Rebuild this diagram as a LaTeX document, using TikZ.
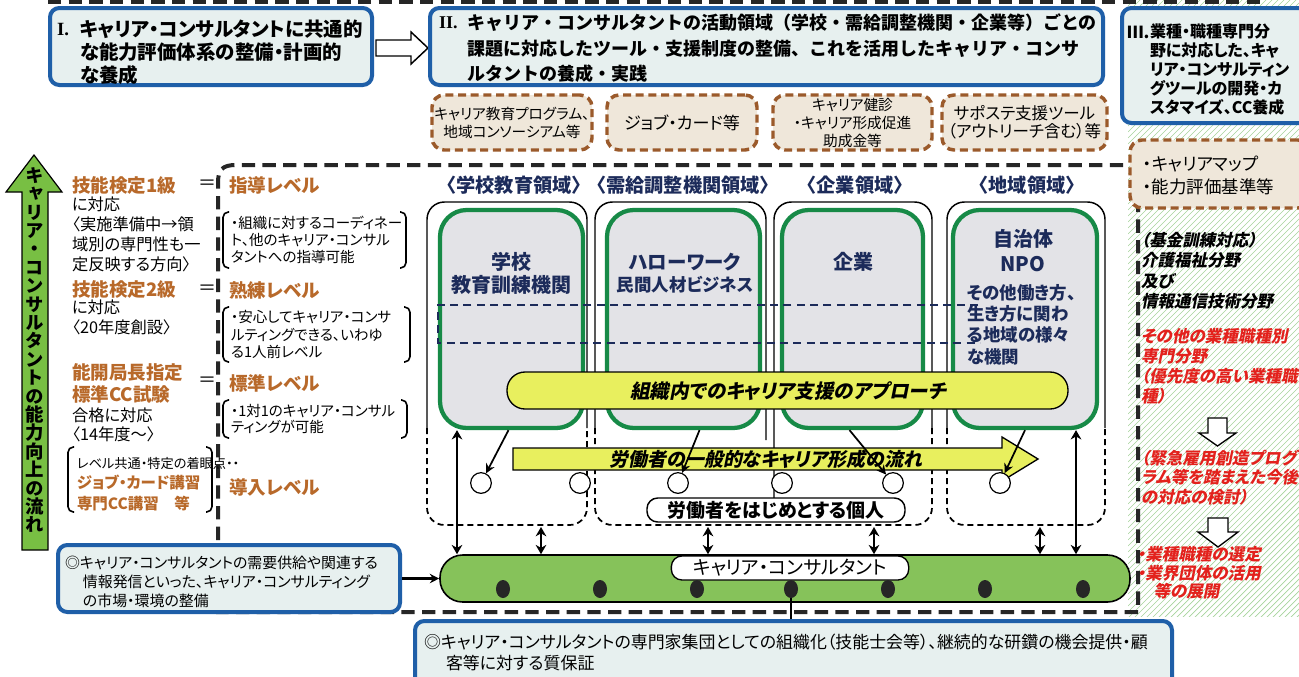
\documentclass[tikz,border=0pt]{standalone}
\usepackage{fontspec}
\setmainfont{Noto Sans CJK JP}[RawFeature=+palt]
\newfontfamily\jpmono{Noto Sans CJK JP}
\newfontfamily\jpsl{Noto Sans CJK JP}[RawFeature=+palt, FakeSlant=0.2]
\newfontfamily\jpvert{Noto Sans CJK JP}[RawFeature=+vert]
\newfontfamily\serifnum{Liberation Serif}
\usetikzlibrary{arrows.meta,fit,calc,shapes.geometric}
\newcommand{\fs}[2]{\fontsize{#1pt}{#2pt}\selectfont}
\definecolor{boxblue}{HTML}{1F5FA8}
\definecolor{boxfill}{HTML}{E7F0EF}
\definecolor{brownb}{HTML}{9B5A2B}
\definecolor{beige}{HTML}{EFE7DA}
\definecolor{browntxt}{HTML}{B8692A}
\definecolor{navy}{HTML}{1C2B5A}
\definecolor{grnline}{HTML}{178A47}
\definecolor{greyfill}{HTML}{E3E3E7}
\definecolor{yel}{HTML}{E8EF5E}
\definecolor{pillgreen}{HTML}{86C25A}
\definecolor{arrowgreen}{HTML}{78BF43}
\definecolor{hatchc}{HTML}{A6D49C}
\definecolor{redtxt}{HTML}{E3211C}
\tikzset{
 txt/.style={inner sep=0pt, outer sep=0pt},
 bluebox/.style={draw=boxblue, line width=3pt, fill=boxfill, rounded corners=7pt, inner sep=0pt},
 brownbox/.style={draw=brownb, line width=2.6pt, dash pattern=on 6pt off 3.5pt, fill=beige, rounded corners=9pt, inner sep=0pt},
 frameline/.style={line width=3pt, dash pattern=on 10pt off 5.5pt, draw=black!85},
 greenrect/.style={draw=grnline, line width=3.2pt, fill=greyfill, rounded corners=20pt, inner sep=0pt},
 colsolid/.style={line width=1.1pt, rounded corners=13pt},
 coldash/.style={line width=1.3pt, dash pattern=on 4.5pt off 3pt, rounded corners=13pt},
 navydash/.style={draw=navy, line width=1.8pt, dash pattern=on 6pt off 4pt},
 yellowshape/.style={fill=yel, draw=black, line width=1pt},
 pebble/.style={circle, draw=black, line width=0.9pt, fill=white, minimum size=15.5pt, inner sep=0pt},
 dot/.style={ellipse, fill=black!85, minimum width=10.5pt, minimum height=13.5pt, inner sep=0pt},
 arr/.style={-{Stealth[length=7pt,width=7pt]}, line width=1.3pt},
 dbl/.style={{Stealth[length=7pt,width=8pt]}-{Stealth[length=7pt,width=8pt]}, line width=1.8pt},
 hollow/.style={draw=black, line width=1pt, fill=white},
 bracket/.style={line width=1.2pt, rounded corners=4pt},
 brownhead/.style={txt, text=browntxt, font=\bfseries\fs{13.9}{16.5}},
 navyhead/.style={txt, text=navy, font=\jpmono\bfseries\fs{14.4}{14.4}},
 blackit/.style={txt, anchor=north west, align=left, font=\jpsl\bfseries\fs{12.4}{15.4}},
 redit/.style={txt, anchor=north west, align=left, text=redtxt, font=\jpsl\bfseries\fs{12.4}{15}},
}
\begin{document}
\begin{tikzpicture}[x=0.75pt,y=-0.75pt]
\useasboundingbox (0,0) rectangle (1299,676);
\clip (0,0) rectangle (1299,676);
\fill[white] (0,0) rectangle (1299,676);

% hatch region on the right
\begin{scope}
\clip (1128,0) rectangle (1299,616);
\foreach \i in {0,6,...,798} {\draw[hatchc, line width=0.5pt] (1128,\i) -- ++(180,-180);}
\end{scope}

% top dashed line and big frame
\draw[frameline] (48,2) -- (1263,2);
\draw[frameline] (1138,612) -- (218,612) -- (218,183) .. controls (218,170) and (222,165) .. (236,165) -- (1138,165) -- cycle;

% Box I
\node[bluebox, fit={(50,8) (372,85)}] (boxI) {};
\node[txt, anchor=west, font=\serifnum\bfseries\fs{14}{14}] (numI) at (57,30) {I.};
\node[txt, anchor=north west, align=left, font=\bfseries\fs{14.6}{17.25}] (txtI) at (80,20.25) {キャリア・コンサルタントに共通的\\な能力評価体系の整備・計画的\\な養成};

% hollow arrow I -> II
\draw[hollow, line width=1.1pt] (376,40) -- (411,40) -- (411,32) -- (428,48) -- (411,64) -- (411,56) -- (376,56) -- cycle;

% Box II
\node[bluebox, fit={(430,8) (1103,85)}] (boxII) {};
\node[txt, anchor=west, font=\serifnum\bfseries\fs{13.5}{13.5}] (numII) at (439,23) {II.};
\node[txt, anchor=north west, align=left, font=\jpmono\bfseries\fs{13.5}{19.1}] (txtII) at (467,14) {キャリア・コンサルタントの活動領域（学校・需給調整機関・企業等）ごとの\\課題に対応したツール・支援制度の整備、これを活用したキャリア・コンサ\\ルタントの養成・実践};

% Box III
\node[bluebox, fit={(1122,8) (1310,123)}] (boxIII) {};
\node[txt, anchor=west, font=\bfseries\fs{12.4}{12.4}] (numIII) at (1127,32) {Ⅲ.};
\node[txt, anchor=north west, align=left, font=\bfseries\fs{12}{14.25}] (txtIII) at (1150,24) {業種・職種専門分\\野に対応した、キャ\\リア・コンサルティン\\グツールの開発・カ\\スタマイズ、CC養成};

% brown dashed tool boxes
\node[brownbox, fit={(432,95) (592,150)}] (t1) {};
\node[txt, align=center, font=\fs{11}{13.5}] (t1t) at (t1.center) {キャリア教育プログラム、\\地域コンソーシアム等};
\node[brownbox, fit={(607,95) (757,150)}] (t2) {};
\node[txt, font=\fs{12.8}{12.8}] (t2t) at (t2.center) {ジョブ・カード等};
\node[brownbox, fit={(773,95) (932,150)}] (t3) {};
\node[txt, align=center, font=\fs{11}{13.5}] (t3t) at (t3.center) {キャリア健診\\・キャリア形成促進\\助成金等};
\node[brownbox, fit={(942,95) (1107,150)}] (t4) {};
\node[txt, align=center, font=\fs{12.4}{13.5}] (t4t) at (t4.center) {サポステ支援ツール\\（アウトリーチ含む）等};

% beige box right
\node[brownbox, fit={(1130,140) (1310,208)}] (mapbox) {};
\node[txt, anchor=north west, align=left, font=\fs{13.1}{16.9}] (mapt) at (1143,156.25) {・キャリアマップ\\・能力評価基準等};

% left green arrow
\draw[fill=arrowgreen, draw=black, line width=0.9pt] (22,550) -- (22,192) -- (6,192) -- (34,155) -- (62,192) -- (48,192) -- (48,550) -- cycle;
\node[txt, align=center, font=\jpvert\bfseries\fs{13.8}{13.8}] (vt) at (35,350) {キ\\ャ\\リ\\ア\\・\\コ\\ン\\サ\\ル\\タ\\ン\\ト\\の\\能\\力\\向\\上\\の\\流\\れ};

% left column
\node[brownhead, anchor=west] (k1) at (72,185) {技能検定1級};
\node[txt, anchor=north west, align=left, font=\fs{12.2}{15}] (k1t) at (72,196.8) {に対応\\〈実施準備中→領\\域別の専門性も一\\定反映する方向〉};
\node[brownhead, anchor=west] (k2) at (72,289) {技能検定2級};
\node[txt, anchor=north west, align=left, font=\fs{12.2}{15}] (k2t) at (72,299.8) {に対応\\〈20年度創設〉};
\node[brownhead, anchor=north west, align=left] (k3) at (72,363.75) {能開局長指定\\標準CC試験};
\node[txt, anchor=north west, align=left, font=\fs{12.2}{14.25}] (k3t) at (72,407.5) {合格に対応\\〈14年度～〉};
\draw[bracket] (74,447) -- (68,447) -- (68,512) -- (74,512);
\draw[bracket] (206,447) -- (212,447) -- (212,512) -- (206,512);
\node[txt, anchor=west, font=\fs{9.9}{9.9}] (k4a) at (77,463) {レベル共通・特定の着眼点・・};
\node[txt, anchor=north west, align=left, text=browntxt, font=\bfseries\fs{11.6}{15.75}] (k4b) at (77,475.25) {ジョブ・カード講習\\専門CC講習\quad 等};

% equal signs
\node[txt, font=\fs{13.5}{13.5}] (eq1) at (207,185) {＝};
\node[txt, font=\fs{13.5}{13.5}] (eq2) at (207,290) {＝};
\node[txt, font=\fs{13.5}{13.5}] (eq3) at (207,382) {＝};

% level labels
\node[brownhead, anchor=west] (lv1) at (229,185) {指導レベル};
\node[brownhead, anchor=west] (lv2) at (229,290) {熟練レベル};
\node[brownhead, anchor=west] (lv3) at (229,383) {標準レベル};
\node[brownhead, anchor=west] (lv4) at (229,487) {導入レベル};

% level descriptions with brackets
\draw[bracket] (229,212) -- (223,212) -- (223,268) -- (229,268);
\draw[bracket] (400,212) -- (406,212) -- (406,268) -- (400,268);
\node[txt, anchor=north west, align=left, font=\fs{10.9}{12.75}] (lv1t) at (231,215.7) {・組織に対するコーディネー\\ト、他のキャリア・コンサル\\タントへの指導可能};
\draw[bracket] (229,307) -- (223,307) -- (223,362) -- (229,362);
\draw[bracket] (404,307) -- (410,307) -- (410,362) -- (404,362);
\node[txt, anchor=north west, align=left, font=\fs{10.9}{13.1}] (lv2t) at (231,310.7) {・安心してキャリア・コンサ\\ルティングできる、いわゆ\\る1人前レベル};
\draw[bracket] (229,400) -- (223,400) -- (223,438) -- (229,438);
\draw[bracket] (401,400) -- (407,400) -- (407,438) -- (401,438);
\node[txt, anchor=north west, align=left, font=\fs{10.9}{12}] (lv3t) at (231,404.7) {・1対1のキャリア・コンサル\\ティングが可能};

% domain headers
\node[navyhead] (h1) at (514,185) {〈学校教育領域〉};
\node[navyhead] (h2) at (683,185) {〈需給調整機関領域〉};
\node[navyhead] (h3) at (855,185) {〈企業領域〉};
\node[navyhead] (h4) at (1027,185) {〈地域領域〉};

% outer column outlines (solid top part)
\draw[colsolid] (427,428) -- (427,202) -- (587,202) -- (587,428);
\draw[colsolid] (595,428) -- (595,202) -- (766,202) -- (766,440);
\draw[colsolid] (774,498) -- (774,202) -- (932,202) -- (932,428);
\draw[colsolid] (947,428) -- (947,202) -- (1105,202) -- (1105,428);

% green organisation boxes
\node[greenrect, fit={(440,210) (583,428)}] (g1) {};
\node[greenrect, fit={(607,210) (760,428)}] (g2) {};
\node[greenrect, fit={(782,210) (923,428)}] (g3) {};
\node[greenrect, fit={(953,210) (1097,428)}] (g4) {};
\node[txt, align=center, text=navy, font=\bfseries\fs{15}{17.25}] (g1t) at (511,273.5) {学校\\教育訓練機関};
\node[txt, text=navy, font=\bfseries\fs{14.6}{14.6}] (g2a) at (685,262) {ハローワーク};
\node[txt, text=navy, font=\bfseries\fs{13.1}{13.1}] (g2b) at (685,285) {民間人材ビジネス};
\node[txt, text=navy, font=\bfseries\fs{15}{15}] (g3t) at (853,262) {企業};
\node[txt, align=center, text=navy, font=\bfseries\fs{15}{18.75}] (g4a) at (1023,250.5) {自治体\\NPO};
\node[txt, anchor=north west, align=left, text=navy, font=\bfseries\fs{13.1}{16}] (g4b) at (967,284.25) {その他働き方、\\生き方に関わ\\る地域の様々\\な機関};

% lower dashed parts of columns
\draw[coldash] (427,428) -- (427,525) -- (587,525) -- (587,428);
\draw[coldash] (595,428) -- (595,525) -- (932,525) -- (932,428);
\draw[coldash] (947,428) -- (947,525) -- (1105,525) -- (1105,428);

% navy dashed band
\draw[navydash] (978,305) -- (438,305) -- (438,343) -- (980,343);

% yellow pill
\node[yellowshape, rounded corners=13.5pt, fit={(507,372) (1068,409)}, inner sep=0pt] (org) {};
\node[txt, font=\jpsl\bfseries\fs{14.6}{14.6}] (orgt) at (788,391) {組織内でのキャリア支援のアプローチ};

% yellow flow arrow
\draw[yellowshape] (513,448) -- (1002,448) -- (1002,437) -- (1038,459) -- (1002,481) -- (1002,470) -- (513,470) -- cycle;
\node[txt, font=\jpsl\bfseries\fs{14.2}{14.2}] (flowt) at (766,459) {労働者の一般的なキャリア形成の流れ};

% individuals
\node[pebble] (c1) at (481,483) {};
\node[pebble] (c2) at (580,483) {};
\node[pebble] (c3) at (678,483) {};
\node[pebble] (c4) at (782,483) {};
\node[pebble] (c5) at (893,483) {};
\node[pebble] (c6) at (1000,483) {};
\draw[arr] ($(g1.south)+(-3,0)$) -- (c1);
\draw[arr] ($(g2.south)+(16,0)$) -- (c3);
\draw[arr] ($(g3.south)+(-3,0)$) -- (c5);
\draw[arr] (g4.south) -- (c6);

\node[draw, line width=1.1pt, fill=white, rounded corners=8pt, minimum width=193.5pt, minimum height=18pt, inner sep=0pt, font=\bfseries\fs{14.2}{14.2}] (indiv) at (776,510) {労働者をはじめとする個人};

% career consultant pill
\node[fill=pillgreen, draw=black, line width=1.2pt, rounded corners=17pt, fit={(440,555) (1130,602)}, inner sep=0pt] (cc) {};
\node[draw, line width=1pt, fill=white, rounded corners=8pt, minimum width=178pt, minimum height=18pt, inner sep=0pt, font=\fs{14.2}{14.2}] (cclabel) at (790,568) {キャリア・コンサルタント};
\foreach \n/\x in {1/503,2/600,3/697,4/791,5/888,6/985,7/1083} {\node[dot] (d\n) at (\x,589) {};}

% arrows to the pill
\coordinate (la1) at (457,0);
\coordinate (la2) at (1076,0);
\draw[dbl] (la1 |- g1.south) -- (la1 |- cc.north);
\draw[dbl] (la2 |- g4.south) -- (la2 |- cc.north);
\coordinate (s1) at (541,527);
\coordinate (s2) at (708,527);
\coordinate (s3) at (874,527);
\coordinate (s4) at (1040,527);
\draw[dbl] (s1) -- (s1 |- cc.north);
\draw[dbl] (s2) -- (s2 |- cc.north);
\draw[dbl] (s3) -- (s3 |- cc.north);
\draw[dbl] (s4) -- (s4 |- cc.north);

% bottom-left box
\node[bluebox, fit={(58,545) (400,612)}] (mkt) {};
\node[txt, anchor=north west, align=left, font=\fs{11.2}{14.6}] (mktt) at (65,555.5) {◎キャリア・コンサルタントの需要供給や関連する\\\hspace*{1.2em}情報発信といった、キャリア・コンサルティング\\\hspace*{1.2em}の市場・環境の整備};
\draw[arr, line width=1.8pt] (mkt.east) -- (mkt.east -| cc.west);

% bottom box
\node[bluebox, fit={(415,621) (1172,692)}] (bb) {};
\node[txt, anchor=north west, align=left, font=\fs{12.7}{15.75}] (bbt) at (424,633.5) {◎キャリア・コンサルタントの専門家集団としての組織化（技能士会等）、継続的な研鑽の機会提供・顧\\\hspace*{1.3em}客等に対する質保証};
\draw[line width=1.3pt] (d4) -- (d4 |- bb.north);

% right column texts
\node[blackit] (r1) at (1141,231.75) {（基金訓練対応）\\介護福祉分野\\及び\\情報通信技術分野};
\node[redit] (r2) at (1141,328.75) {その他の業種職種別\\専門分野\\（優先度の高い業種職\\種）};
\draw[hollow] (1208,418) -- (1227,418) -- (1227,433) -- (1236,433) -- (1217.5,446) -- (1199,433) -- (1208,433) -- cycle;
\node[redit, font=\jpsl\bfseries\fs{12.4}{14.6}] (r3) at (1141,449.75) {（緊急雇用創造プログ\\ラム等を踏まえた今後\\の対応の検討）};
\draw[hollow] (1208,518) -- (1228,518) -- (1228,532) -- (1238,532) -- (1218,547) -- (1198,532) -- (1208,532) -- cycle;
\node[redit, font=\jpsl\bfseries\fs{12.4}{13.9}] (r4) at (1137,546.75) {・業種職種の選定\\・業界団体の活用\\\hspace*{1em}等の展開};
\end{tikzpicture}
\end{document}
